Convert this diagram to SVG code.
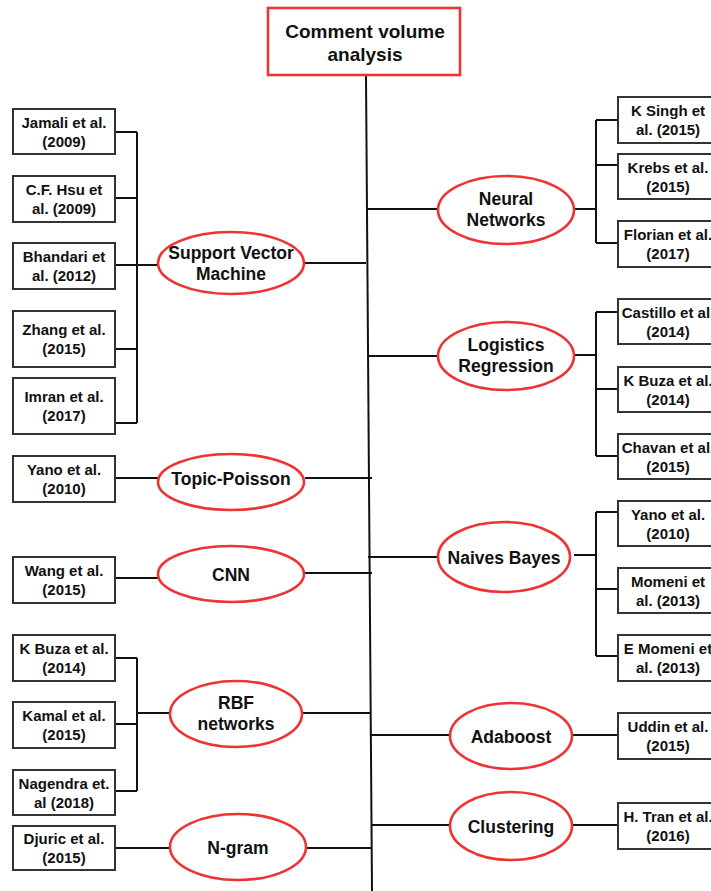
<svg xmlns="http://www.w3.org/2000/svg" width="711" height="891" viewBox="0 0 711 891">
  <style>
    .bg { fill: #ffffff; }
    .ref rect { fill: #ffffff; stroke: #333333; stroke-width: 2; }
    .ref text { font-family: "Liberation Sans", Arial, sans-serif; font-weight: bold; font-size: 15px; fill: #111111; text-anchor: middle; }
    .method ellipse { fill: #ffffff; stroke: #ee3333; stroke-width: 2.6; }
    .method text { font-family: "Liberation Sans", Arial, sans-serif; font-weight: bold; font-size: 17.5px; fill: #111111; text-anchor: middle; }
    .root rect { fill: #ffffff; stroke: #ee3333; stroke-width: 2.6; }
    .root text { font-family: "Liberation Sans", Arial, sans-serif; font-weight: bold; font-size: 19px; fill: #111111; text-anchor: middle; }
    #connectors path { fill: none; stroke: #111111; stroke-width: 2; }
  </style>

  <rect class="bg" x="0" y="0" width="711" height="891"/>

  <!-- connectors -->
  <g id="connectors">
    <!-- main spine -->
    <path d="M366 76 L372 891"/>
    <!-- Support Vector Machine -->
    <path d="M305 263 H366"/>
    <path d="M115 132 H137 M115 198 H137 M115 265 H137 M115 349 H137 M115 423 H137 M137 132 V423 M137 265 H158"/>
    <!-- Neural Networks -->
    <path d="M366 209 H438 M575 209 H596 M596 120 V243 M596 120 H618 M596 165 H618 M596 243 H618"/>
    <!-- Logistics Regression -->
    <path d="M367 356 H438 M575 355 H596 M596 312 V456 M596 312 H618 M596 389 H618 M596 456 H618"/>
    <!-- Topic-Poisson -->
    <path d="M115 478 H158 M305 478 H372"/>
    <!-- CNN -->
    <path d="M115 578 H158 M305 573 H372"/>
    <!-- Naives Bayes -->
    <path d="M368 557 H438 M574 555 H596 M596 512 V656 M596 512 H618 M596 589 H618 M596 656 H618"/>
    <!-- RBF networks -->
    <path d="M115 658 H137 M115 724 H137 M115 791 H137 M137 658 V791 M137 713 H170 M302 713 H370"/>
    <!-- N-gram -->
    <path d="M115 848 H170 M306 848 H372"/>
    <!-- Adaboost -->
    <path d="M370 735 H450 M573 735 H618"/>
    <!-- Clustering -->
    <path d="M371 825 H450 M573 825 H618"/>
  </g>

  <!-- root -->
  <g id="root" class="root">
    <rect x="268" y="8" width="192" height="67"/>
    <text x="365" y="38">Comment volume</text>
    <text x="365" y="61">analysis</text>
  </g>

  <!-- methods -->
  <g id="svm" class="method">
    <ellipse cx="231" cy="263" rx="73" ry="31"/>
    <text x="231" y="259">Support Vector</text>
    <text x="231" y="280">Machine</text>
  </g>
  <g id="topic-poisson" class="method">
    <ellipse cx="231" cy="482" rx="73" ry="28"/>
    <text x="231" y="485">Topic-Poisson</text>
  </g>
  <g id="cnn" class="method">
    <ellipse cx="231" cy="574" rx="73" ry="28"/>
    <text x="231" y="581">CNN</text>
  </g>
  <g id="rbf" class="method">
    <ellipse cx="236" cy="714" rx="66" ry="33"/>
    <text x="236" y="709">RBF</text>
    <text x="236" y="730">networks</text>
  </g>
  <g id="ngram" class="method">
    <ellipse cx="238" cy="847" rx="68" ry="33"/>
    <text x="238" y="854">N-gram</text>
  </g>
  <g id="neural" class="method">
    <ellipse cx="506" cy="210" rx="68" ry="34"/>
    <text x="506" y="205">Neural</text>
    <text x="506" y="226">Networks</text>
  </g>
  <g id="logistics" class="method">
    <ellipse cx="506" cy="356" rx="68" ry="34"/>
    <text x="506" y="351">Logistics</text>
    <text x="506" y="372">Regression</text>
  </g>
  <g id="naives" class="method">
    <ellipse cx="504" cy="557" rx="66" ry="35"/>
    <text x="504" y="564">Naives Bayes</text>
  </g>
  <g id="adaboost" class="method">
    <ellipse cx="511" cy="736" rx="61" ry="33"/>
    <text x="511" y="743">Adaboost</text>
  </g>
  <g id="clustering" class="method">
    <ellipse cx="511" cy="826" rx="61" ry="34"/>
    <text x="511" y="833">Clustering</text>
  </g>

  <!-- references, left column -->
  <g id="ref-jamali" class="ref">
    <rect x="13" y="109" width="102" height="45"/>
    <text x="64" y="128">Jamali et al.</text>
    <text x="64" y="147">(2009)</text>
  </g>
  <g id="ref-hsu" class="ref">
    <rect x="13" y="176" width="102" height="46"/>
    <text x="64" y="195">C.F. Hsu et</text>
    <text x="64" y="214">al. (2009)</text>
  </g>
  <g id="ref-bhandari" class="ref">
    <rect x="13" y="243" width="102" height="46"/>
    <text x="64" y="262">Bhandari et</text>
    <text x="64" y="281">al. (2012)</text>
  </g>
  <g id="ref-zhang" class="ref">
    <rect x="13" y="311" width="102" height="56"/>
    <text x="64" y="335">Zhang et al.</text>
    <text x="64" y="354">(2015)</text>
  </g>
  <g id="ref-imran" class="ref">
    <rect x="13" y="378" width="102" height="56"/>
    <text x="64" y="402">Imran et al.</text>
    <text x="64" y="421">(2017)</text>
  </g>
  <g id="ref-yano-left" class="ref">
    <rect x="13" y="456" width="102" height="46"/>
    <text x="64" y="475">Yano et al.</text>
    <text x="64" y="494">(2010)</text>
  </g>
  <g id="ref-wang" class="ref">
    <rect x="13" y="557" width="102" height="46"/>
    <text x="64" y="576">Wang et al.</text>
    <text x="64" y="595">(2015)</text>
  </g>
  <g id="ref-buza-left" class="ref">
    <rect x="13" y="635" width="102" height="46"/>
    <text x="64" y="654">K Buza et al.</text>
    <text x="64" y="673">(2014)</text>
  </g>
  <g id="ref-kamal" class="ref">
    <rect x="13" y="702" width="102" height="46"/>
    <text x="64" y="721">Kamal et al.</text>
    <text x="64" y="740">(2015)</text>
  </g>
  <g id="ref-nagendra" class="ref">
    <rect x="13" y="770" width="102" height="45"/>
    <text x="64" y="789">Nagendra et.</text>
    <text x="64" y="808">al (2018)</text>
  </g>
  <g id="ref-djuric" class="ref">
    <rect x="13" y="826" width="102" height="44"/>
    <text x="64" y="844">Djuric et al.</text>
    <text x="64" y="863">(2015)</text>
  </g>

  <!-- references, right column -->
  <g id="ref-singh" class="ref">
    <rect x="618" y="97" width="104" height="46"/>
    <text x="668" y="116">K Singh et</text>
    <text x="668" y="135">al. (2015)</text>
  </g>
  <g id="ref-krebs" class="ref">
    <rect x="618" y="154" width="104" height="45"/>
    <text x="668" y="173">Krebs et al.</text>
    <text x="668" y="192">(2015)</text>
  </g>
  <g id="ref-florian" class="ref">
    <rect x="618" y="221" width="104" height="46"/>
    <text x="668" y="240">Florian et al.</text>
    <text x="668" y="259">(2017)</text>
  </g>
  <g id="ref-castillo" class="ref">
    <rect x="618" y="299" width="104" height="45"/>
    <text x="668" y="318">Castillo et al.</text>
    <text x="668" y="337">(2014)</text>
  </g>
  <g id="ref-buza-right" class="ref">
    <rect x="618" y="367" width="104" height="45"/>
    <text x="668" y="386">K Buza et al.</text>
    <text x="668" y="405">(2014)</text>
  </g>
  <g id="ref-chavan" class="ref">
    <rect x="618" y="434" width="104" height="45"/>
    <text x="668" y="453">Chavan et al.</text>
    <text x="668" y="472">(2015)</text>
  </g>
  <g id="ref-yano-right" class="ref">
    <rect x="618" y="501" width="104" height="45"/>
    <text x="668" y="520">Yano et al.</text>
    <text x="668" y="539">(2010)</text>
  </g>
  <g id="ref-momeni" class="ref">
    <rect x="618" y="568" width="104" height="45"/>
    <text x="668" y="587">Momeni et</text>
    <text x="668" y="606">al. (2013)</text>
  </g>
  <g id="ref-emomeni" class="ref">
    <rect x="618" y="635" width="104" height="46"/>
    <text x="668" y="654">E Momeni et</text>
    <text x="668" y="673">al. (2013)</text>
  </g>
  <g id="ref-uddin" class="ref">
    <rect x="618" y="713" width="104" height="46"/>
    <text x="668" y="732">Uddin et al.</text>
    <text x="668" y="751">(2015)</text>
  </g>
  <g id="ref-tran" class="ref">
    <rect x="618" y="803" width="104" height="46"/>
    <text x="668" y="822">H. Tran et al.</text>
    <text x="668" y="841">(2016)</text>
  </g>
</svg>
